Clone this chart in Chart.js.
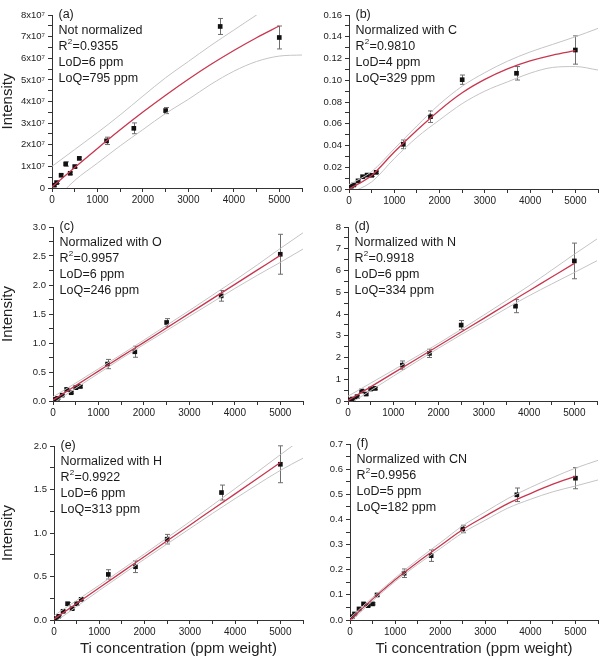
<!DOCTYPE html>
<html>
<head>
<meta charset="utf-8">
<script src="https://cdn.jsdelivr.net/npm/chart.js@4.4.1/dist/chart.umd.min.js"></script>
<style>
  body { margin: 0; background: #fff; }
  #wrap { position: relative; width: 602px; height: 661px; overflow: hidden; }
  canvas { position: absolute; }
</style>
</head>
<body>
<div id="wrap"></div>
<script>
// Ti concentration of the standards (ppm weight)
var conc = [50, 100, 200, 300, 400, 500, 600, 1200, 1800, 2500, 3700, 5000];

var fitX = [0, 500, 1000, 1500, 2000, 2500, 3000, 3500, 4000, 4500, 5000];
var bandX = [0, 500, 1000, 1500, 2000, 2500, 3000, 3500, 4000, 4500, 5000, 5500];

var xLabels = ['0', '1000', '2000', '3000', '4000', '5000'];

// (a) not normalized
var intA = [0.13e7, 0.25e7, 0.59e7, 1.11e7, 0.68e7, 0.99e7, 1.37e7, 2.18e7, 2.76e7, 3.58e7, 7.47e7, 6.96e7];
var errA = [0.05e7, 0.05e7, 0.06e7, 0.1e7, 0.06e7, 0.06e7, 0.06e7, 0.17e7, 0.25e7, 0.14e7, 0.37e7, 0.53e7];
var fitA = [0.05e7, 0.95e7, 1.83e7, 2.69e7, 3.51e7, 4.29e7, 5.03e7, 5.72e7, 6.36e7, 6.95e7, 7.49e7];
var upA = [1.0e7, 1.78e7, 2.56e7, 3.38e7, 4.25e7, 5.1e7, 5.85e7, 6.6e7, 7.3e7, 8.0e7, 8.65e7, 9.3e7];
var loA = [-0.7e7, 0.35e7, 1.15e7, 1.95e7, 2.7e7, 3.45e7, 4.1e7, 4.8e7, 5.4e7, 5.85e7, 6.1e7, 6.15e7];
var yLabelsA = ['0', '1x10⁷', '2x10⁷', '3x10⁷', '4x10⁷', '5x10⁷', '6x10⁷', '7x10⁷', '8x10⁷'];

// (b) normalized with C
var intB = [0.0025, 0.0037, 0.0075, 0.0113, 0.0128, 0.0126, 0.0153, 0.0411, 0.0665, 0.1005, 0.1064, 0.1278];
var errB = [0.0008, 0.0008, 0.001, 0.001, 0.001, 0.001, 0.001, 0.004, 0.0053, 0.0043, 0.0062, 0.013];
var fitB = [0, 0.0125, 0.034, 0.054, 0.0725, 0.0885, 0.1008, 0.1105, 0.1178, 0.1232, 0.1272];
var upB = [0.004, 0.016, 0.037, 0.058, 0.078, 0.0945, 0.1070, 0.1175, 0.126, 0.133, 0.14, 0.1477];
var loB = [-0.004, 0.0065, 0.028, 0.0475, 0.0635, 0.0785, 0.09, 0.0985, 0.1065, 0.1118, 0.1126, 0.1094];
var yLabelsB = ['0.00', '0.02', '0.04', '0.06', '0.08', '0.10', '0.12', '0.14', '0.16'];

// (c) normalized with O
var intC = [0.029, 0.046, 0.1, 0.2, 0.143, 0.23, 0.25, 0.637, 0.849, 1.354, 1.813, 2.53];
var errC = [0.015, 0.015, 0.015, 0.02, 0.015, 0.02, 0.02, 0.08, 0.095, 0.066, 0.092, 0.344];
var fitC = [0.015, 0.265, 0.515, 0.765, 1.01, 1.26, 1.51, 1.76, 2.01, 2.26, 2.51];
var upC = [0.07, 0.31, 0.555, 0.8, 1.05, 1.305, 1.56, 1.82, 2.08, 2.35, 2.63, 2.9];
var loC = [-0.04, 0.22, 0.475, 0.73, 0.975, 1.215, 1.46, 1.7, 1.94, 2.17, 2.39, 2.62];
var yLabelsC = ['0.0', '0.5', '1.0', '1.5', '2.0', '2.5', '3.0'];

// (d) normalized with N
var intD = [0.05, 0.09, 0.2, 0.46, 0.32, 0.55, 0.58, 1.65, 2.19, 3.49, 4.36, 6.44];
var errD = [0.04, 0.04, 0.05, 0.06, 0.05, 0.06, 0.06, 0.19, 0.19, 0.21, 0.3, 0.82];
var fitD = [0.02, 0.65, 1.28, 1.91, 2.54, 3.17, 3.8, 4.44, 5.07, 5.7, 6.33];
var upD = [0.22, 0.82, 1.42, 2.03, 2.65, 3.29, 3.95, 4.62, 5.3, 6.02, 6.75, 7.45];
var loD = [-0.18, 0.48, 1.14, 1.79, 2.43, 3.05, 3.65, 4.26, 4.84, 5.38, 5.91, 6.45];
var yLabelsD = ['0', '1', '2', '3', '4', '5', '6', '7', '8'];

// (e) normalized with H
var intE = [0.015, 0.042, 0.1, 0.187, 0.13, 0.187, 0.237, 0.524, 0.612, 0.929, 1.465, 1.79];
var errE = [0.01, 0.01, 0.012, 0.015, 0.012, 0.015, 0.015, 0.054, 0.067, 0.055, 0.086, 0.212];
var fitE = [0.01, 0.19, 0.37, 0.55, 0.73, 0.91, 1.09, 1.27, 1.45, 1.63, 1.81];
var upE = [0.05, 0.225, 0.4, 0.58, 0.76, 0.945, 1.13, 1.32, 1.51, 1.705, 1.9, 2.09];
var loE = [-0.03, 0.155, 0.34, 0.52, 0.7, 0.875, 1.05, 1.225, 1.395, 1.56, 1.72, 1.86];
var yLabelsE = ['0.0', '0.5', '1.0', '1.5', '2.0'];

// (f) normalized with CN
var intF = [0.013, 0.024, 0.044, 0.064, 0.057, 0.064, 0.0996, 0.186, 0.256, 0.362, 0.498, 0.564];
var errF = [0.003, 0.003, 0.004, 0.004, 0.004, 0.004, 0.005, 0.017, 0.023, 0.015, 0.027, 0.042];
var fitF = [0, 0.083, 0.16, 0.23, 0.295, 0.36, 0.413, 0.463, 0.503, 0.54, 0.571];
var upF = [0.008, 0.09, 0.167, 0.24, 0.307, 0.375, 0.43, 0.483, 0.527, 0.567, 0.604, 0.635];
var loF = [-0.008, 0.076, 0.153, 0.221, 0.284, 0.347, 0.397, 0.445, 0.48, 0.51, 0.533, 0.557];
var yLabelsF = ['0.0', '0.1', '0.2', '0.3', '0.4', '0.5', '0.6', '0.7'];

// panel annotations
var tags = ['(a)', '(b)', '(c)', '(d)', '(e)', '(f)'];
var notes = ['Not normalized', 'Normalized with C', 'Normalized with O', 'Normalized with N', 'Normalized with H', 'Normalized with CN'];
var r2 = ['0.9355', '0.9810', '0.9957', '0.9918', '0.9922', '0.9956'];
var lod = [6, 4, 6, 6, 6, 5];
var loq = [795, 329, 246, 334, 313, 182];

var FONT = '"Liberation Sans", Arial, Helvetica, sans-serif';
var INK = '#222';

function pairs(xs, ys) {
  return xs.map(function (x, i) { return { x: x, y: ys[i] }; });
}

// major ticks carry a label, one unlabelled minor tick in between,
// and extra minor ticks past the last label up to the axis end
function tickList(labels, lastLabelValue, axisMax) {
  var step = lastLabelValue / (labels.length - 1), out = [];
  labels.forEach(function (lab, i) {
    out.push({ value: i * step, label: lab });
    if (i < labels.length - 1) out.push({ value: (i + 0.5) * step, label: '' });
  });
  var v = lastLabelValue + step / 2;
  while (v <= axisMax + 1e-9 * axisMax) { out.push({ value: v, label: '' }); v += step / 2; }
  return out;
}

var errPlugin = {
  id: 'errbars',
  beforeDatasetDraw: function (chart, args) {
    var ds = chart.data.datasets[args.index];
    if (!ds.errors) return;
    var xs = chart.scales.x, ys = chart.scales.y, ctx = chart.ctx;
    ctx.save();
    ctx.strokeStyle = '#6e6e6e';
    ctx.lineWidth = 1;
    ds.data.forEach(function (p, i) {
      var e = ds.errors[i];
      var px = Math.round(xs.getPixelForValue(p.x)) + 0.5;
      var y1 = ys.getPixelForValue(p.y + e), y2 = ys.getPixelForValue(p.y - e);
      ctx.beginPath();
      ctx.moveTo(px, y1); ctx.lineTo(px, y2);
      ctx.moveTo(px - 2.5, y1); ctx.lineTo(px + 2.5, y1);
      ctx.moveTo(px - 2.5, y2); ctx.lineTo(px + 2.5, y2);
      ctx.stroke();
    });
    ctx.restore();
  }
};

var notePlugin = {
  id: 'note',
  afterDraw: function (chart) {
    var n = chart.$note, a = chart.chartArea, ctx = chart.ctx;
    var x = a.left + 6.5, y = a.top - 0.5, h = 15.9;
    var big = '12.5px ' + FONT;
    ctx.save();
    ctx.fillStyle = '#1a1a1a';
    ctx.textBaseline = 'middle';
    ctx.textAlign = 'left';
    ctx.font = big;
    ctx.fillText(tags[n], x, y);
    ctx.fillText(notes[n], x, y + h);
    var yy = y + 2 * h;
    ctx.fillText('R', x, yy);
    var w = ctx.measureText('R').width;
    ctx.font = '8px ' + FONT;
    ctx.fillText('2', x + w + 0.3, yy - 4.5);
    var w2 = ctx.measureText('2').width;
    ctx.font = big;
    ctx.fillText('=' + r2[n], x + w + w2 + 0.6, yy);
    ctx.fillText('LoD=' + lod[n] + ' ppm', x, y + 3 * h);
    ctx.fillText('LoQ=' + loq[n] + ' ppm', x, y + 4 * h);
    ctx.restore();
  }
};

// box = canvas [left, top, width, height], area = plot area [left, top, right, bottom] on the page
function panel(n, box, area, series, yLabels, yMax, showYTitle, showXTitle) {
  var cv = document.createElement('canvas');
  cv.width = box[2]; cv.height = box[3];
  cv.style.left = box[0] + 'px'; cv.style.top = box[1] + 'px';
  document.getElementById('wrap').appendChild(cv);

  var xt = tickList(xLabels, 5000, 5500);
  var yt = tickList(yLabels, yMax, yMax);
  var axisW = area[0] - box[0];
  var axisH = box[1] + box[3] - area[3];

  var gridOpts = { drawOnChartArea: false, drawTicks: true, tickLength: 4, tickColor: '#333', tickWidth: 1 };
  var borderOpts = { display: true, color: '#333', width: 1 };

  return new Chart(cv, {
    type: 'scatter',
    data: {
      datasets: [
        { data: pairs(bandX, series.up), showLine: true, borderColor: '#c4c4c4', borderWidth: 1,
          pointRadius: 0, cubicInterpolationMode: 'monotone' },
        { data: pairs(bandX, series.lo), showLine: true, borderColor: '#c4c4c4', borderWidth: 1,
          pointRadius: 0, cubicInterpolationMode: 'monotone' },
        { data: pairs(fitX, series.fit), showLine: true, borderColor: '#c8364e', borderWidth: 1.3,
          pointRadius: 0, cubicInterpolationMode: 'monotone' },
        { data: pairs(conc, series.val), errors: series.err, showLine: false, pointStyle: 'rect',
          pointRadius: 3.3, backgroundColor: '#111', borderWidth: 0 }
      ]
    },
    options: {
      responsive: false,
      animation: false,
      devicePixelRatio: 1,
      events: [],
      layout: { padding: { left: 0, bottom: 0, top: area[1] - box[1], right: box[0] + box[2] - area[2] } },
      plugins: { legend: { display: false }, tooltip: { enabled: false } },
      scales: {
        x: {
          type: 'linear', min: 0, max: 5500,
          afterBuildTicks: function (ax) { ax.ticks = xt.map(function (t) { return { value: t.value }; }); },
          afterFit: function (ax) { ax.height = axisH; },
          ticks: { autoSkip: false, maxRotation: 0, padding: 2, color: INK, font: { family: FONT, size: 10 },
                   callback: function (v, i) { return xt[i].label; } },
          grid: gridOpts, border: borderOpts,
          title: { display: showXTitle, text: 'Ti concentration (ppm weight)', color: INK,
                   font: { family: FONT, size: 15, lineHeight: 1 }, padding: { top: 0, bottom: 4.5 } }
        },
        y: {
          type: 'linear', min: 0, max: yMax,
          afterBuildTicks: function (ax) { ax.ticks = yt.map(function (t) { return { value: t.value }; }); },
          afterFit: function (ax) { ax.width = axisW; },
          ticks: { autoSkip: false, padding: 3, color: INK, font: { family: FONT, size: 9.5 },
                   callback: function (v, i) { return yt[i].label; } },
          grid: gridOpts, border: borderOpts,
          title: { display: showYTitle, text: 'Intensity', color: INK,
                   font: { family: FONT, size: 15, lineHeight: 1 }, padding: { top: 0, bottom: 0 } }
        }
      }
    },
    plugins: [errPlugin, {
      id: 'noteIndex',
      beforeInit: function (c) { c.$note = n; }
    }, notePlugin]
  });
}

panel(0, [0, 0, 306, 210], [52, 15, 303, 188],
  { val: intA, err: errA, fit: fitA, up: upA, lo: loA }, yLabelsA, 8e7, true, false);
panel(1, [301, 0, 301, 210], [349, 15, 599, 189],
  { val: intB, err: errB, fit: fitB, up: upB, lo: loB }, yLabelsB, 0.16, false, false);
panel(2, [0, 210, 307, 210], [53, 227, 304, 401],
  { val: intC, err: errC, fit: fitC, up: upC, lo: loC }, yLabelsC, 3, true, false);
panel(3, [301, 210, 301, 210], [348, 227, 597, 401],
  { val: intD, err: errD, fit: fitD, up: upD, lo: loD }, yLabelsD, 8, false, false);
panel(4, [0, 420, 307, 241], [54, 446, 304, 620],
  { val: intE, err: errE, fit: fitE, up: upE, lo: loE }, yLabelsE, 2, true, true);
panel(5, [301, 420, 301, 241], [350, 444, 600, 620],
  { val: intF, err: errF, fit: fitF, up: upF, lo: loF }, yLabelsF, 0.7, false, true);
</script>
</body>
</html>
